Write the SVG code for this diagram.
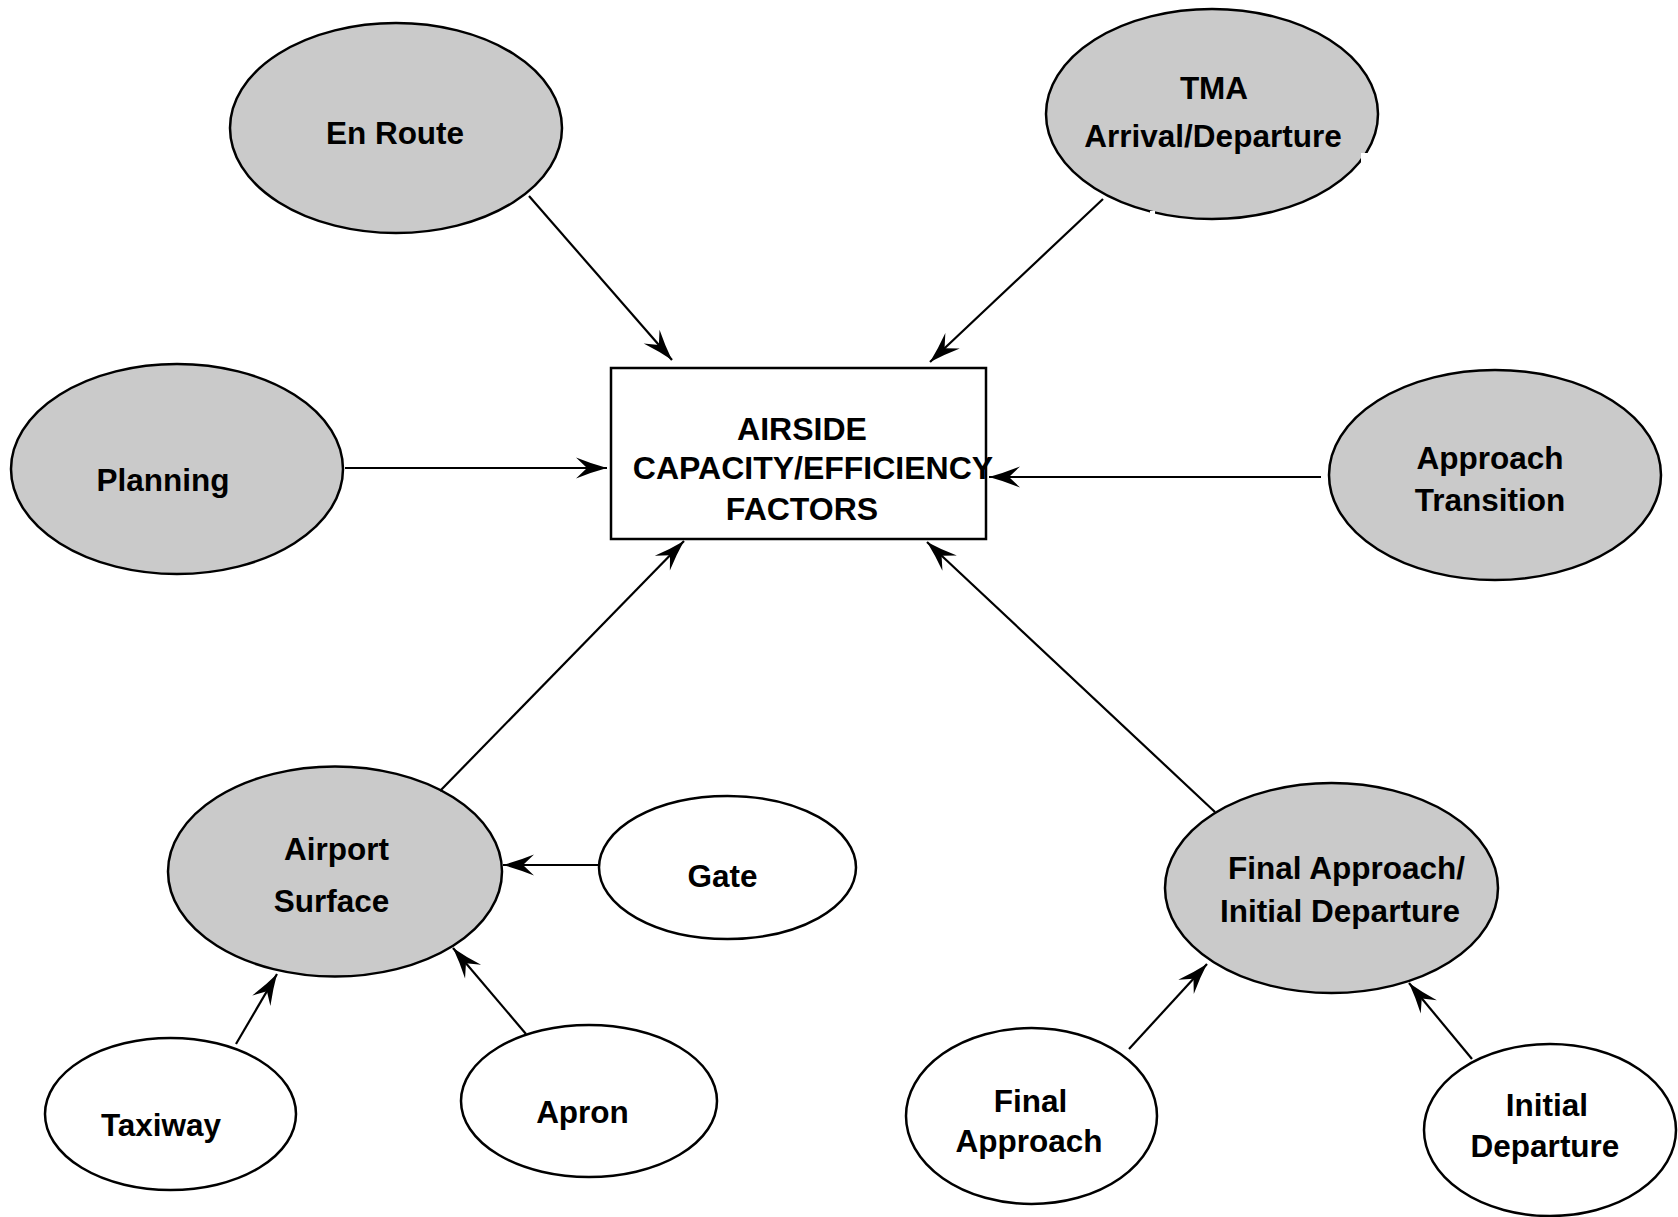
<svg xmlns="http://www.w3.org/2000/svg" width="1678" height="1217" viewBox="0 0 1678 1217">
  <style>
    .major { fill: #cacaca; stroke: #000; stroke-width: 2.5; }
    .minor { fill: #fff; stroke: #000; stroke-width: 2.5; }
    .box { fill: #fff; stroke: #000; stroke-width: 2.5; }
    .lbl { font-family: "Liberation Sans", Arial, Helvetica, sans-serif; font-weight: bold; font-size: 31.5px; text-anchor: middle; fill: #000; }
    .boxlbl { font-size: 32px; }
    .conn { stroke: #000; stroke-width: 2.2; fill: none; marker-end: url(#arrow); }
  </style>
  <defs>
    <marker id="arrow" markerUnits="userSpaceOnUse" viewBox="-33 -12 34 24" refX="0" refY="0" markerWidth="34" markerHeight="24" orient="auto">
      <path d="M0,0 Q-15,-4 -31,-10.5 L-20,0 L-31,10.5 Q-15,4 0,0 Z" fill="#000"/>
    </marker>
  </defs>
  <rect width="1678" height="1217" fill="#fff"/>

  <!-- central factor box -->
  <g id="airside-factors">
    <rect class="box" x="611" y="368" width="375" height="171"/>
    <text class="lbl boxlbl" x="802" y="440">AIRSIDE</text>
    <text class="lbl boxlbl" x="813" y="479">CAPACITY/EFFICIENCY</text>
    <text class="lbl boxlbl" x="802" y="520">FACTORS</text>
  </g>

  <g id="en-route">
    <ellipse class="major" cx="396" cy="128" rx="166" ry="105"/>
    <text class="lbl" x="395" y="144">En Route</text>
  </g>

  <g id="planning">
    <ellipse class="major" cx="177" cy="469" rx="166" ry="105"/>
    <text class="lbl" x="163" y="491">Planning</text>
  </g>

  <g id="tma">
    <ellipse class="major" cx="1212" cy="114" rx="166" ry="105"/>
    <!-- small breaks in the outline -->
    <rect x="1361" y="153" width="8" height="9" fill="#fff"/>
    <rect x="1150" y="211" width="5" height="7" fill="#fff"/>
    <text class="lbl" x="1214" y="99">TMA</text>
    <text class="lbl" x="1213" y="147">Arrival/Departure</text>
  </g>

  <g id="approach-transition">
    <ellipse class="major" cx="1495" cy="475" rx="166" ry="105"/>
    <text class="lbl" x="1490" y="469">Approach</text>
    <text class="lbl" x="1490" y="511">Transition</text>
  </g>

  <g id="airport-surface">
    <ellipse class="major" cx="335" cy="871.5" rx="167" ry="105"/>
    <text class="lbl" x="336.5" y="860">Airport</text>
    <text class="lbl" x="331.5" y="912">Surface</text>
  </g>

  <g id="gate">
    <ellipse class="minor" cx="727.5" cy="867.5" rx="128.5" ry="71.5"/>
    <text class="lbl" x="722.5" y="887">Gate</text>
  </g>

  <g id="taxiway">
    <ellipse class="minor" cx="170.5" cy="1114" rx="125.5" ry="76"/>
    <text class="lbl" x="161" y="1136">Taxiway</text>
  </g>

  <g id="apron">
    <ellipse class="minor" cx="589" cy="1101" rx="128" ry="76"/>
    <text class="lbl" x="582.5" y="1123">Apron</text>
  </g>

  <g id="final-approach-initial-departure">
    <ellipse class="major" cx="1331.5" cy="888" rx="166.5" ry="105"/>
    <text class="lbl" x="1346.5" y="879">Final Approach/</text>
    <text class="lbl" x="1340" y="922">Initial Departure</text>
  </g>

  <g id="final-approach">
    <ellipse class="minor" cx="1031.5" cy="1116" rx="125.5" ry="88"/>
    <text class="lbl" x="1030.5" y="1112">Final</text>
    <text class="lbl" x="1029" y="1152">Approach</text>
  </g>

  <g id="initial-departure">
    <ellipse class="minor" cx="1550" cy="1130" rx="126" ry="86"/>
    <text class="lbl" x="1547" y="1116">Initial</text>
    <text class="lbl" x="1545" y="1157">Departure</text>
  </g>

  <!-- connectors -->
  <g id="connectors">
    <line class="conn" x1="529" y1="196" x2="672" y2="360"/>
    <line class="conn" x1="1103" y1="199" x2="930" y2="362"/>
    <line class="conn" x1="345" y1="468" x2="607" y2="468"/>
    <line class="conn" x1="1321" y1="477" x2="989" y2="477"/>
    <line class="conn" x1="440" y1="791" x2="684" y2="541"/>
    <line class="conn" x1="1215" y1="812" x2="927" y2="542"/>
    <line class="conn" x1="598" y1="865" x2="503" y2="865"/>
    <line class="conn" x1="236" y1="1044" x2="277" y2="974"/>
    <line class="conn" x1="526" y1="1034" x2="453" y2="948"/>
    <line class="conn" x1="1129" y1="1049" x2="1207" y2="964"/>
    <line class="conn" x1="1472" y1="1059" x2="1409" y2="983"/>
  </g>
</svg>
